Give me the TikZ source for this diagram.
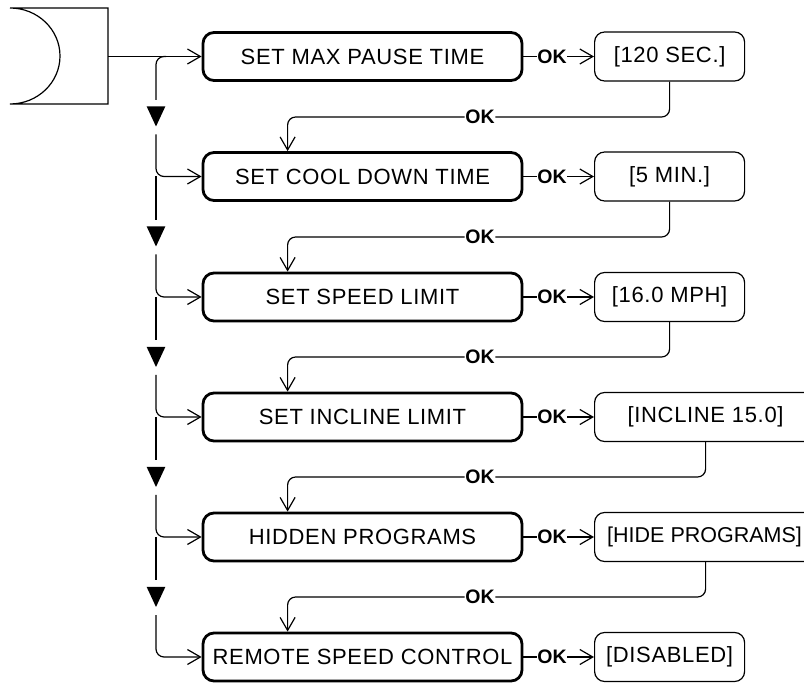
\documentclass[tikz,border=0pt]{standalone}
\usepackage{fontspec}
\setmainfont{Liberation Sans}
\newfontfamily\lcdfont[LetterSpace=3.0]{Liberation Sans}
\usetikzlibrary{arrows.meta,calc}
\begin{document}
\begin{tikzpicture}[x=1pt,y=-1pt,
  boxfont/.style={font=\lcdfont\fontsize{22}{25}\selectfont},
  mainbox/.style={draw, line width=2.8pt, rounded corners=11pt, minimum width=319pt, minimum height=48pt, inner sep=0pt, boxfont},
  valbox/.style={draw, line width=1.2pt, rounded corners=10pt, minimum height=49pt, inner sep=0pt, anchor=west, boxfont},
  tightfont/.style={font=\fontsize{21.5}{25}\selectfont},
  oklab/.style={inner sep=0.6pt, font=\fontsize{19.5}{22}\selectfont\bfseries},
  flow/.style={line width=1.2pt},
  tip/.style={flow, -{Straight Barb[length=13pt,width=15pt]}},
  tri/.style={fill=black}]
\clip (0,0) rectangle (804,684);
\fill[white] (0,0) rectangle (804,684);

% start symbol
\draw[flow] (10,8) -- (108,8) -- (108,104) -- (10,104)
  arc[start angle=-90,end angle=90,x radius=50pt,y radius=48pt];
\coordinate (s) at (108,56.5);

% main boxes
\node[mainbox] (b1) at (362.5,56.5) {SET MAX PAUSE TIME};
\node[mainbox] (b2) at (362.5,176.5) {SET COOL DOWN TIME};
\node[mainbox] (b3) at (362.5,297) {SET SPEED LIMIT};
\node[mainbox] (b4) at (362.5,417) {SET INCLINE LIMIT};
\node[mainbox] (b5) at (362.5,537) {HIDDEN PROGRAMS};
\node[mainbox] (b6) at (362.5,657) {REMOTE SPEED CONTROL};

% value boxes
\node[valbox, minimum width=150pt] (v1) at (594,56.5) {[120 SEC.]};
\node[valbox, minimum width=150pt] (v2) at (594,176.5) {[5 MIN.]};
\node[valbox, minimum width=150pt] (v3) at (594,297) {[16.0 MPH]};
\node[valbox, minimum width=222pt] (v4) at (594,417) {[INCLINE 15.0]};
\node[valbox, minimum width=222pt, tightfont] (v5) at (594,537) {[HIDE PROGRAMS]\hspace*{2pt}};
\node[valbox, minimum width=150pt] (v6) at (594,657) {[DISABLED]};

% OK connectors to the right
\foreach \i/\y in {1/56.5,2/176.5,3/297,4/417,5/537,6/657}{
  \node[oklab] (k\i) at (552,\y) {OK};
  \draw[flow] (b\i.east) -- (k\i.west);
  \draw[tip] (k\i.east) -- (v\i.west);
}

% return connectors
\foreach \i/\j/\y in {1/2/117,2/3/237,3/4/357,4/5/477,5/6/597}{
  \node[oklab] (r\i) at (480,\y) {OK};
  \draw[flow, rounded corners=8pt] (v\i.south) |- (r\i.east);
  \draw[tip, rounded corners=8pt] (r\i.west) -| ($(b\j.north west)+(86,0)$);
}

% entry line and left rail
\draw[tip] (s) -- (b1.west);
\draw[flow, rounded corners=8pt] (166,56.5) -- (156,56.5) -- (156,100);
\foreach \ya/\j in {56.5/2,176.5/3,297/4,417/5,537/6}{
  \fill[tri] (146.7,\ya+50) -- (165.3,\ya+50) -- (156,\ya+70) -- cycle;
  \draw[tip, rounded corners=8pt] (156,\ya+78) |- (b\j.west);
}
\foreach \y in {176.5,297,417,537}{
  \draw[flow] (156,\y) -- (156,\y+43.5);
}
\end{tikzpicture}
\end{document}
